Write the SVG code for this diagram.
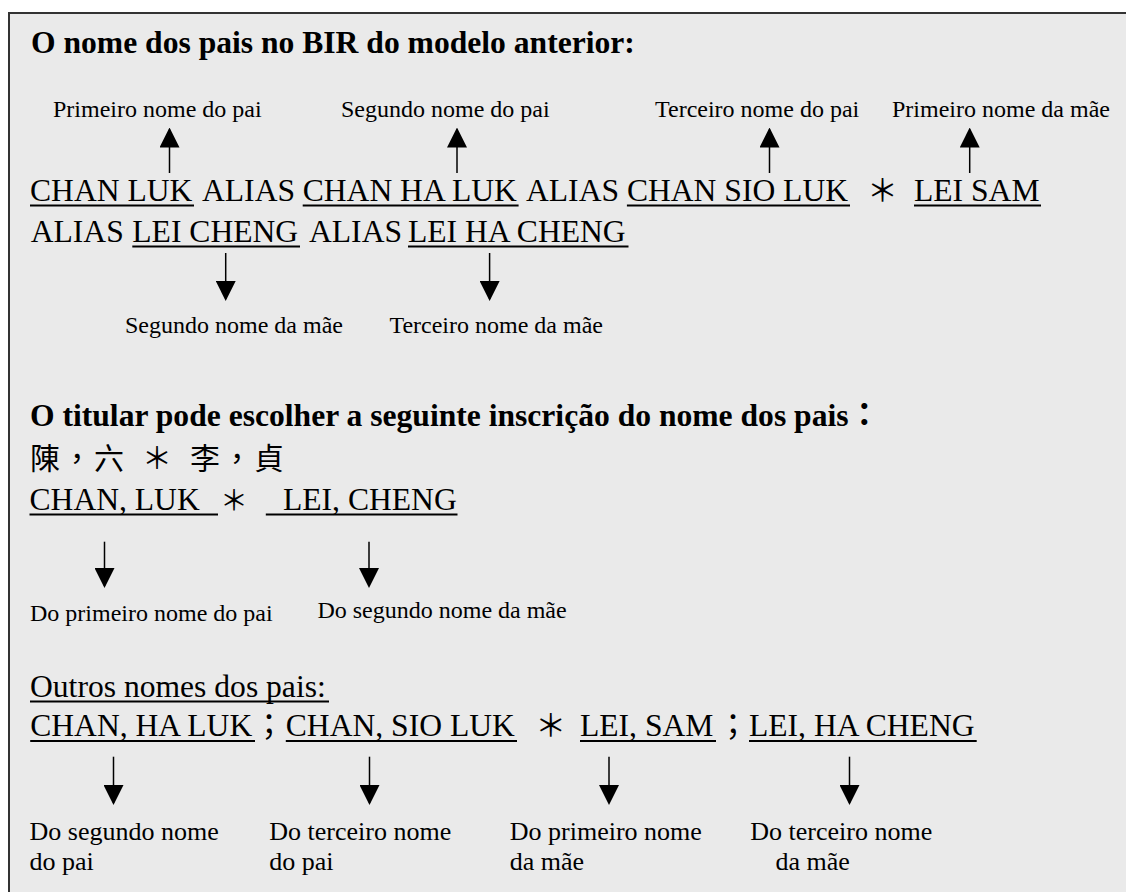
<svg xmlns="http://www.w3.org/2000/svg" width="1126" height="892" viewBox="0 0 1126 892">
<style>
.t{font-family:"Liberation Serif","Noto Sans CJK TC",serif;fill:#000}
.h{font-size:31.6px;font-weight:bold}
.m{font-size:31.6px}
.s{font-size:24px}
.b{font-size:26px}
.cjk{font-family:"Noto Sans CJK TC","Liberation Serif",sans-serif;font-size:31px;fill:#000}
.ul{stroke:#000;stroke-width:2}
.sh{stroke:#000;stroke-width:1.5;fill:none}
</style>
<defs>
<marker id="ah" viewBox="0 0 20 20" markerUnits="userSpaceOnUse" markerWidth="20" markerHeight="20" refX="18" refY="10" orient="auto">
<path d="M0,0 L20,10 L0,20 z" fill="#000"/>
</marker>
</defs>
<rect width="1126" height="892" fill="#fff"/>
<rect id="frame" x="9" y="13" width="1140" height="900" fill="#eaeaea" stroke="#333" stroke-width="2"/>

<g id="title1"><text class="t h" x="31" y="53">O nome dos pais no BIR do modelo anterior:</text></g>

<g id="lbl-pai1"><text class="t s" x="53" y="117">Primeiro nome do pai</text></g>
<g id="lbl-pai2"><text class="t s" x="341" y="117">Segundo nome do pai</text></g>
<g id="lbl-pai3"><text class="t s" x="655" y="117">Terceiro nome do pai</text></g>
<g id="lbl-mae1"><text class="t s" x="892" y="117">Primeiro nome da mãe</text></g>

<g id="line1">
<text class="t m" y="201"><tspan x="30">CHAN LUK</tspan><tspan x="202">ALIAS</tspan><tspan x="302.7">CHAN HA LUK</tspan><tspan x="526">ALIAS</tspan><tspan x="626.9">CHAN SIO LUK</tspan><tspan x="914">LEI SAM</tspan></text>
<text class="cjk" x="882.5" y="201" text-anchor="middle">＊</text>
<line class="ul" x1="30" y1="205.5" x2="194" y2="205.5"/>
<line class="ul" x1="302.7" y1="205.5" x2="518.6" y2="205.5"/>
<line class="ul" x1="626.9" y1="205.5" x2="850" y2="205.5"/>
<line class="ul" x1="914" y1="205.5" x2="1041" y2="205.5"/>
</g>

<g id="line2">
<text class="t m" y="242"><tspan x="30.7">ALIAS</tspan><tspan x="132.3">LEI CHENG</tspan><tspan x="309">ALIAS</tspan><tspan x="408">LEI HA CHENG</tspan></text>
<line class="ul" x1="132.3" y1="246.5" x2="300" y2="246.5"/>
<line class="ul" x1="408" y1="246.5" x2="628.5" y2="246.5"/>
</g>

<g id="lbl-mae2"><text class="t s" x="125" y="333">Segundo nome da mãe</text></g>
<g id="lbl-mae3"><text class="t s" x="389.4" y="333">Terceiro nome da mãe</text></g>

<g id="title2"><text class="t h" x="30" y="426">O titular pode escolher a seguinte inscrição do nome dos pais<tspan font-family="Noto Sans CJK TC">：</tspan></text></g>

<g id="cjk-line"><text class="cjk" style="font-size:30px" y="469" x="30 62 94 142 190 222 254">陳，六＊李，貞</text></g>

<g id="line3">
<text class="t m" y="510"><tspan x="29.5">CHAN, LUK</tspan><tspan x="283">LEI, CHENG</tspan></text>
<text class="cjk" style="font-size:28px" x="234" y="511" text-anchor="middle">＊</text>
<line class="ul" x1="29.5" y1="514.5" x2="218" y2="514.5"/>
<line class="ul" x1="265.8" y1="514.5" x2="457.5" y2="514.5"/>
</g>

<g id="lbl-do1"><text class="t s" x="30" y="621">Do primeiro nome do pai</text></g>
<g id="lbl-do2"><text class="t s" x="317.4" y="618">Do segundo nome da mãe</text></g>

<g id="outros">
<text class="t m" x="30" y="697">Outros nomes dos pais:</text>
<line class="ul" x1="30" y1="701.5" x2="329" y2="701.5"/>
</g>

<g id="line4">
<text class="t m" y="736"><tspan x="30.2">CHAN, HA LUK</tspan><tspan x="285.8">CHAN, SIO LUK</tspan><tspan x="580">LEI, SAM</tspan><tspan x="749">LEI, HA CHENG</tspan></text>
<text class="cjk" y="736" text-anchor="middle"><tspan x="269">；</tspan><tspan x="550.7">＊</tspan><tspan x="733">；</tspan></text>
<line class="ul" x1="30.2" y1="741" x2="255" y2="741"/>
<line class="ul" x1="285.8" y1="741" x2="517" y2="741"/>
<line class="ul" x1="580" y1="741" x2="716" y2="741"/>
<line class="ul" x1="749" y1="741" x2="976.7" y2="741"/>
</g>

<g id="lbl-b1"><text class="t b" x="29.5" y="840">Do segundo nome</text><text class="t b" x="29.5" y="870">do pai</text></g>
<g id="lbl-b2"><text class="t b" x="269.3" y="840">Do terceiro nome</text><text class="t b" x="269.3" y="870">do pai</text></g>
<g id="lbl-b3"><text class="t b" x="509.8" y="840">Do primeiro nome</text><text class="t b" x="509.8" y="870">da mãe</text></g>
<g id="lbl-b4"><text class="t b" x="750.3" y="840">Do terceiro nome</text><text class="t b" x="775.4" y="870">da mãe</text></g>

<g id="connectors">
<line class="sh" x1="169.5" y1="173" x2="169.5" y2="129.5" marker-end="url(#ah)"/>
<line class="sh" x1="457" y1="173" x2="457" y2="129.5" marker-end="url(#ah)"/>
<line class="sh" x1="769.5" y1="173" x2="769.5" y2="129.5" marker-end="url(#ah)"/>
<line class="sh" x1="969.7" y1="173" x2="969.7" y2="129.5" marker-end="url(#ah)"/>
<line class="sh" x1="225.7" y1="253" x2="225.7" y2="299" marker-end="url(#ah)"/>
<line class="sh" x1="489.6" y1="253" x2="489.6" y2="299" marker-end="url(#ah)"/>
<line class="sh" x1="104.5" y1="541.7" x2="104.5" y2="586" marker-end="url(#ah)"/>
<line class="sh" x1="369" y1="541.7" x2="369" y2="586" marker-end="url(#ah)"/>
<line class="sh" x1="113.5" y1="756.7" x2="113.5" y2="803" marker-end="url(#ah)"/>
<line class="sh" x1="369.5" y1="756.7" x2="369.5" y2="803" marker-end="url(#ah)"/>
<line class="sh" x1="609" y1="756.7" x2="609" y2="803" marker-end="url(#ah)"/>
<line class="sh" x1="849.5" y1="756.7" x2="849.5" y2="803" marker-end="url(#ah)"/>
</g>
</svg>
